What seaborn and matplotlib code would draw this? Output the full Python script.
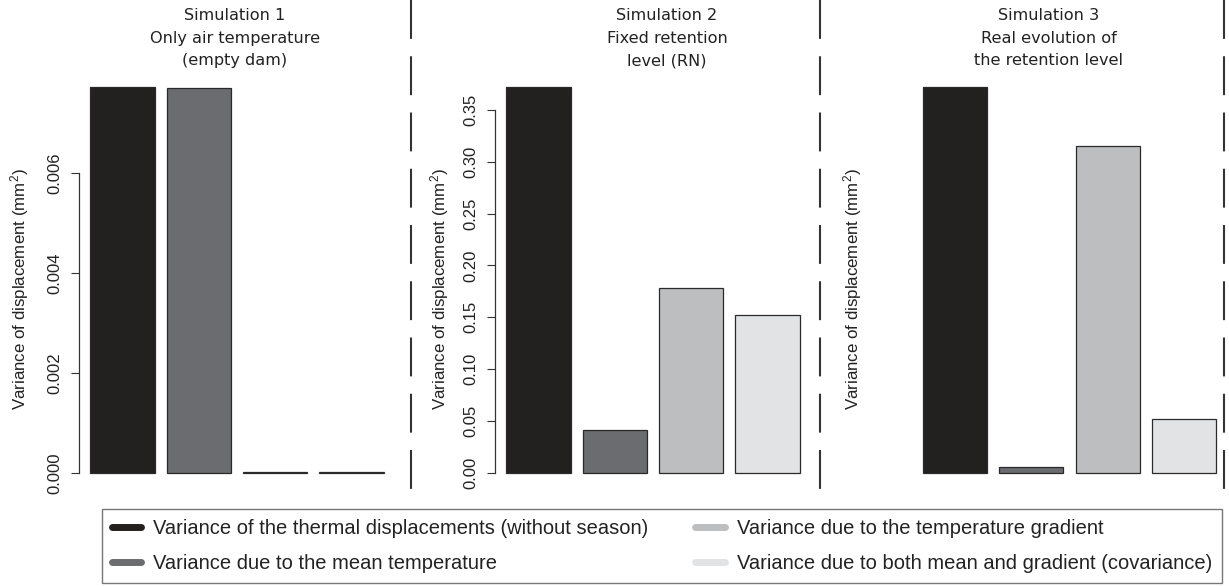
import numpy as np
import pandas as pd
import matplotlib
matplotlib.use("Agg")
import matplotlib.pyplot as plt
from matplotlib.lines import Line2D
import seaborn as sns

# ---------------- data ----------------
components = [
    "Variance of the thermal displacements (without season)",
    "Variance due to the mean temperature",
    "Variance due to the temperature gradient",
    "Variance due to both mean and gradient (covariance)",
]
component_colors = ["#222120", "#6b6c6f", "#bdbec0", "#e2e3e5"]

sim_titles = [
    "Simulation 1\nOnly air temperature\n(empty dam)",
    "Simulation 2\nFixed retention\nlevel (RN)",
    "Simulation 3\nReal evolution of\nthe retention level",
]
sim1_values = [0.00772, 0.00771, 0.00001, 0.00002]
sim2_values = [0.372, 0.0415, 0.178, 0.152]
sim3_values = [0.372, 0.0058, 0.315, 0.052]   # no scale drawn; relative heights read off

sim1_ticks = [0.000, 0.002, 0.004, 0.006]
sim2_ticks = [0.00, 0.05, 0.10, 0.15, 0.20, 0.25, 0.30, 0.35]
sim3_ticks = []
tick_formats = ["{:.3f}", "{:.2f}", "{:.2f}"]
ylabel_text = "Variance of displacement (mm$^{2}$)"

# ---------------- style ----------------
sns.set_theme(style="ticks")
plt.rcParams['font.family'] = ['Liberation Sans', 'DejaVu Sans']
plt.rcParams['mathtext.fontset'] = 'custom'
plt.rcParams['mathtext.rm'] = 'Liberation Sans'
plt.rcParams['mathtext.it'] = 'Liberation Sans:italic'
plt.rcParams['lines.scale_dashes'] = False

W, H = 1229, 586
fig = plt.figure(figsize=(W / 100, H / 100), dpi=100)

ax_left_px = [79, 495, 911.5]
ax_w_px = 316
ax_top_px, ax_bot_px = 71.6, 488.4
title_x_px = [235, 667, 1049]
ylabel_x_px = [20, 440, 853]
sep_x_px = [411, 819.5, 1224]

all_values = [sim1_values, sim2_values, sim3_values]
all_ticks = [sim1_ticks, sim2_ticks, sim3_ticks]
text_col = "#222222"

for i in range(3):
    ax = fig.add_axes([ax_left_px[i] / W, 1 - ax_bot_px / H,
                       ax_w_px / W, (ax_bot_px - ax_top_px) / H])
    df = pd.DataFrame({"component": components, "value": all_values[i]})
    sns.barplot(data=df, x="component", y="value", hue="component",
                order=components, hue_order=components,
                palette=component_colors, saturation=1, width=0.84,
                edgecolor="#2a2a2a", linewidth=0.9, errorbar=None,
                legend=False, ax=ax)
    m = max(all_values[i])
    ax.set_ylim(-0.04 * m, 1.04 * m)
    ax.set_xlim(-0.57, 3.57)
    ax.set_xticks([])
    ax.set_xlabel("")
    ax.set_ylabel("")
    for s in ["top", "right", "bottom"]:
        ax.spines[s].set_visible(False)
    ticks = all_ticks[i]
    if ticks:
        ax.spines["left"].set_bounds(ticks[0], ticks[-1])
        ax.spines["left"].set_color("#333333")
        ax.spines["left"].set_linewidth(0.9)
        ax.set_yticks(ticks)
        ax.set_yticklabels([tick_formats[i].format(t) for t in ticks],
                           rotation=90, va="center")
        ax.tick_params(axis="y", left=True, length=5.8, width=0.8,
                       color="#333333", pad=6.5, labelsize=12,
                       labelcolor=text_col)
    else:
        ax.spines["left"].set_visible(False)
        ax.set_yticks([])
    ax.patch.set_alpha(0)

    fig.text(ylabel_x_px[i] / W, 1 - 289 / H, ylabel_text, rotation=90,
             ha="center", va="center", fontsize=12.2, color=text_col)

    for j, line in enumerate(sim_titles[i].split("\n")):
        fig.text(title_x_px[i] / W, 1 - (16 + 22.3 * j) / H, line,
                 ha="center", va="center", fontsize=11.6, color=text_col,
                 family=["DejaVu Sans"])

for x in sep_x_px:
    fig.add_artist(Line2D([x / W, x / W], [1, 1 - 490 / H],
                          transform=fig.transFigure, color="#333333",
                          lw=1.5, dashes=(28, 12.5)))

handles = [Line2D([], [], color=c, lw=5, solid_capstyle="round")
           for c in component_colors]
leg = fig.legend(handles, components, loc="upper left",
                 bbox_to_anchor=(102 / W, 1 - 583 / H, 1120 / W, 74 / H),
                 mode="expand", ncol=2, frameon=True, fancybox=False,
                 edgecolor="#555555", fontsize=14.5, handlelength=1.45,
                 handletextpad=0.6, labelspacing=0.8, borderpad=0.5,
                 borderaxespad=0)
leg.get_frame().set_linewidth(1.0)
for t in leg.get_texts():
    t.set_color(text_col)

fig.savefig("out.png", dpi=100, facecolor="white")
